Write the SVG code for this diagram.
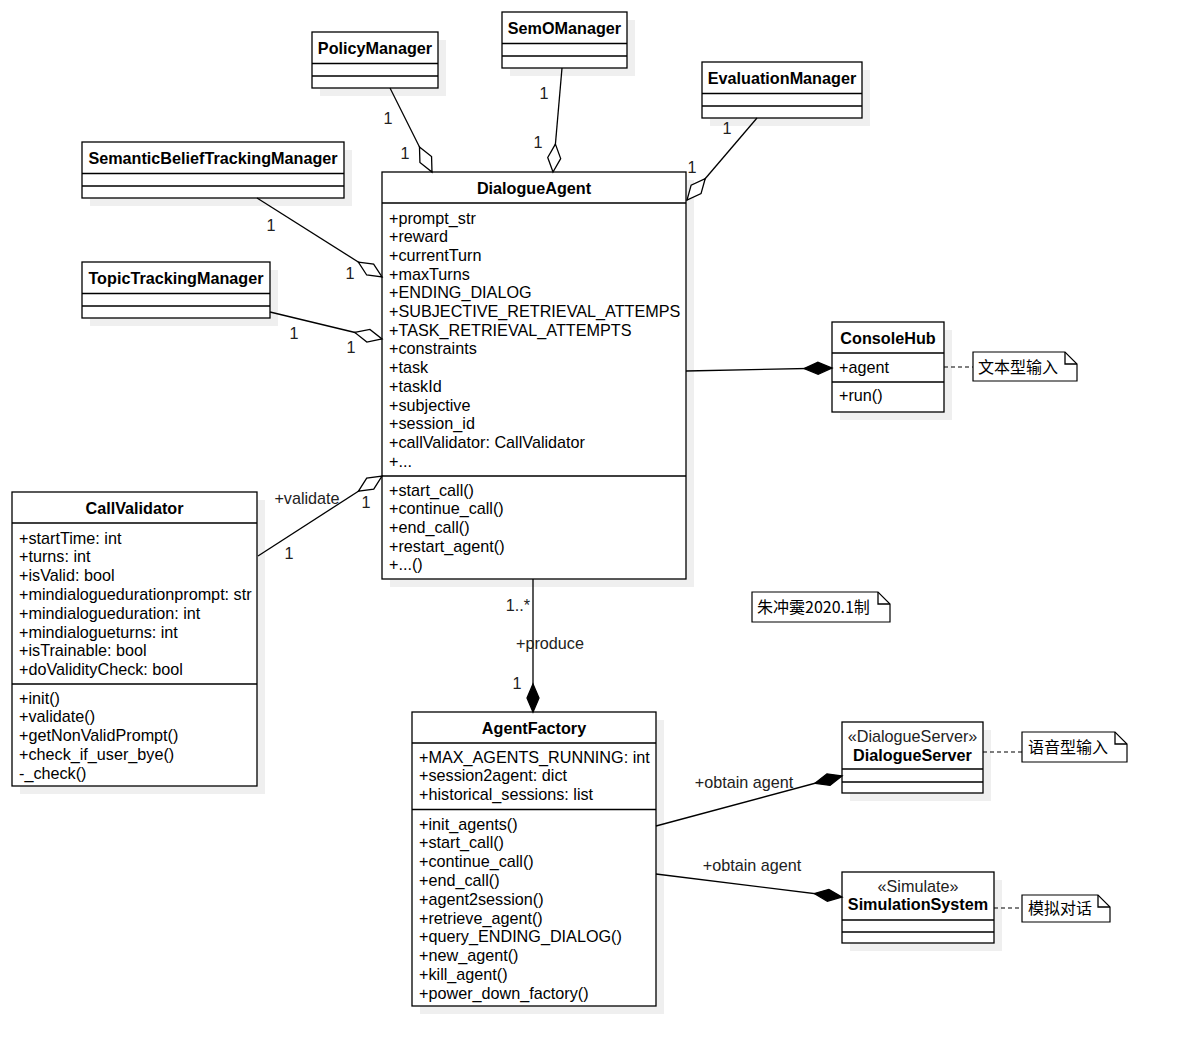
<svg xmlns="http://www.w3.org/2000/svg" width="1177" height="1056" viewBox="0 0 1177 1056">
<style>
text{font-family:"Liberation Sans",Arial,"Noto Sans CJK SC",sans-serif;font-size:16.2px;fill:#000}
.t{font-weight:bold;text-anchor:middle}
.lbl{text-anchor:middle;fill:#222}
.st{text-anchor:middle;fill:#222}
.cjk{font-family:"Noto Sans CJK SC","Liberation Sans",sans-serif;font-size:16px}
.box{fill:#fff;stroke:#000;stroke-width:1.3}
.sh{fill:#efefef;stroke:none}
.ln{stroke:#000;stroke-width:1.3;fill:none}
.edge{stroke:#000;stroke-width:1.3;fill:none}
.dash{stroke:#000;stroke-width:1.2;fill:none;stroke-dasharray:4 3}
.note{fill:#fff;stroke:#000;stroke-width:1.2}
</style>
<defs>
<marker id="hd" viewBox="-2 -9 32 18" refX="28" refY="0" markerWidth="32" markerHeight="18" markerUnits="userSpaceOnUse" orient="auto"><path d="M0,0 L14,-6.5 L28,0 L14,6.5 Z" fill="#fff" stroke="#000" stroke-width="1.3"/></marker>
<marker id="fd" viewBox="-2 -9 32 18" refX="28" refY="0" markerWidth="32" markerHeight="18" markerUnits="userSpaceOnUse" orient="auto"><path d="M0,0 L14,-6 L28,0 L14,6 Z" fill="#000" stroke="#000" stroke-width="1.3"/></marker>
</defs>
<rect width="1177" height="1056" fill="#fff"/>

<g id="shadows">
<rect class="sh" x="320" y="40" width="126" height="56"/>
<rect class="sh" x="510" y="20" width="125" height="56"/>
<rect class="sh" x="710" y="70" width="160" height="56"/>
<rect class="sh" x="90" y="150" width="262" height="56"/>
<rect class="sh" x="90" y="270" width="188" height="56"/>
<rect class="sh" x="390" y="180" width="304" height="407"/>
<rect class="sh" x="840" y="330" width="112" height="90"/>
<rect class="sh" x="20" y="500" width="245" height="294"/>
<rect class="sh" x="420" y="720" width="244" height="294"/>
<rect class="sh" x="850" y="730" width="141" height="71"/>
<rect class="sh" x="850" y="880" width="152" height="71"/>
</g>

<g id="PolicyManager">
<rect class="box" x="312" y="32" width="126" height="56"/>
<path class="ln" d="M312,63.5 H438 M312,76 H438"/>
<text class="t" x="375" y="54">PolicyManager</text>
</g>

<g id="SemOManager">
<rect class="box" x="502" y="12" width="125" height="56"/>
<path class="ln" d="M502,43.5 H627 M502,56 H627"/>
<text class="t" x="564.5" y="34">SemOManager</text>
</g>

<g id="EvaluationManager">
<rect class="box" x="702" y="62" width="160" height="56"/>
<path class="ln" d="M702,93.5 H862 M702,106 H862"/>
<text class="t" x="782" y="84">EvaluationManager</text>
</g>

<g id="SemanticBeliefTrackingManager">
<rect class="box" x="82" y="142" width="262" height="56"/>
<path class="ln" d="M82,173.5 H344 M82,186 H344"/>
<text class="t" x="213" y="164">SemanticBeliefTrackingManager</text>
</g>

<g id="TopicTrackingManager">
<rect class="box" x="82" y="262" width="188" height="56"/>
<path class="ln" d="M82,293.5 H270 M82,306 H270"/>
<text class="t" x="176" y="284">TopicTrackingManager</text>
</g>

<g id="DialogueAgent">
<rect class="box" x="382" y="172" width="304" height="407"/>
<path class="ln" d="M382,203 H686 M382,476 H686"/>
<text class="t" x="534" y="194">DialogueAgent</text>
<text x="389" y="223.5">+prompt_str</text>
<text x="389" y="242.2">+reward</text>
<text x="389" y="260.9">+currentTurn</text>
<text x="389" y="279.6">+maxTurns</text>
<text x="389" y="298.3">+ENDING_DIALOG</text>
<text x="389" y="317">+SUBJECTIVE_RETRIEVAL_ATTEMPS</text>
<text x="389" y="335.7">+TASK_RETRIEVAL_ATTEMPTS</text>
<text x="389" y="354.4">+constraints</text>
<text x="389" y="373.1">+task</text>
<text x="389" y="391.8">+taskId</text>
<text x="389" y="410.5">+subjective</text>
<text x="389" y="429.2">+session_id</text>
<text x="389" y="447.9">+callValidator: CallValidator</text>
<text x="389" y="466.6">+...</text>
<text x="389" y="495.5">+start_call()</text>
<text x="389" y="514.2">+continue_call()</text>
<text x="389" y="532.9">+end_call()</text>
<text x="389" y="551.6">+restart_agent()</text>
<text x="389" y="570.3">+...()</text>
</g>

<g id="ConsoleHub">
<rect class="box" x="832" y="322" width="112" height="90"/>
<path class="ln" d="M832,353 H944 M832,382 H944"/>
<text class="t" x="888" y="344">ConsoleHub</text>
<text x="839" y="373">+agent</text>
<text x="839" y="401">+run()</text>
</g>

<g id="note-text-input">
<path class="note" d="M973,352 H1065 L1077,364 V381 H973 Z"/>
<path class="ln" stroke-width="1.2" d="M1065,352 V364 H1077"/>
<text class="cjk" x="978" y="373">文本型输入</text>
</g>

<g id="note-author">
<path class="note" d="M752,592 H878 L890,604 V622 H752 Z"/>
<path class="ln" stroke-width="1.2" d="M878,592 V604 H890"/>
<text class="cjk" x="757" y="613">朱冲霙2020.1制</text>
</g>

<g id="CallValidator">
<rect class="box" x="12" y="492" width="245" height="294"/>
<path class="ln" d="M12,523 H257 M12,684 H257"/>
<text class="t" x="134.5" y="514">CallValidator</text>
<text x="19" y="543.5">+startTime: int</text>
<text x="19" y="562.3">+turns: int</text>
<text x="19" y="581.1">+isValid: bool</text>
<text x="19" y="599.9">+mindialoguedurationprompt: str</text>
<text x="19" y="618.7">+mindialogueduration: int</text>
<text x="19" y="637.5">+mindialogueturns: int</text>
<text x="19" y="656.3">+isTrainable: bool</text>
<text x="19" y="675.1">+doValidityCheck: bool</text>
<text x="19" y="703.5">+init()</text>
<text x="19" y="722.3">+validate()</text>
<text x="19" y="741.1">+getNonValidPrompt()</text>
<text x="19" y="759.9">+check_if_user_bye()</text>
<text x="19" y="778.7">-_check()</text>
</g>

<g id="AgentFactory">
<rect class="box" x="412" y="712" width="244" height="294"/>
<path class="ln" d="M412,743 H656 M412,809.5 H656"/>
<text class="t" x="534" y="734">AgentFactory</text>
<text x="419" y="762.5">+MAX_AGENTS_RUNNING: int</text>
<text x="419" y="781.3">+session2agent: dict</text>
<text x="419" y="800.1">+historical_sessions: list</text>
<text x="419" y="829.5">+init_agents()</text>
<text x="419" y="848.3">+start_call()</text>
<text x="419" y="867.1">+continue_call()</text>
<text x="419" y="885.9">+end_call()</text>
<text x="419" y="904.7">+agent2session()</text>
<text x="419" y="923.5">+retrieve_agent()</text>
<text x="419" y="942.3">+query_ENDING_DIALOG()</text>
<text x="419" y="961.1">+new_agent()</text>
<text x="419" y="979.9">+kill_agent()</text>
<text x="419" y="998.7">+power_down_factory()</text>
</g>

<g id="DialogueServer">
<rect class="box" x="842" y="722" width="141" height="71"/>
<path class="ln" d="M842,769 H983 M842,782 H983"/>
<text class="st" x="912.5" y="742">«DialogueServer»</text>
<text class="t" x="912.5" y="761">DialogueServer</text>
</g>

<g id="note-voice-input">
<path class="note" d="M1022,732 H1115 L1127,744 V762 H1022 Z"/>
<path class="ln" stroke-width="1.2" d="M1115,732 V744 H1127"/>
<text class="cjk" x="1028" y="753">语音型输入</text>
</g>

<g id="SimulationSystem">
<rect class="box" x="842" y="872" width="152" height="71"/>
<path class="ln" d="M842,920 H994 M842,932 H994"/>
<text class="st" x="918" y="892">«Simulate»</text>
<text class="t" x="918" y="910">SimulationSystem</text>
</g>

<g id="note-simulation">
<path class="note" d="M1022,895 H1098 L1110,907 V922 H1022 Z"/>
<path class="ln" stroke-width="1.2" d="M1098,895 V907 H1110"/>
<text class="cjk" x="1028" y="914">模拟对话</text>
</g>

<g id="connectors">
<path class="edge" d="M390,88 L432,172" marker-end="url(#hd)"/>
<path class="edge" d="M562,68 L553,172" marker-end="url(#hd)"/>
<path class="edge" d="M757,118 L687,200" marker-end="url(#hd)"/>
<path class="edge" d="M257,198 L382,277" marker-end="url(#hd)"/>
<path class="edge" d="M270,312 L382,339" marker-end="url(#hd)"/>
<path class="edge" d="M258,556 L382,476" marker-end="url(#hd)"/>
<path class="edge" d="M686,371 L832,368" marker-end="url(#fd)"/>
<path class="edge" d="M533,579 L533,712" marker-end="url(#fd)"/>
<path class="edge" d="M656,826 L842,776" marker-end="url(#fd)"/>
<path class="edge" d="M656,874 L842,897" marker-end="url(#fd)"/>
<path class="dash" d="M944,367 L973,367"/>
<path class="dash" d="M983,752 L1022,752"/>
<path class="dash" d="M994,908 L1022,908"/>
<text class="lbl" x="388" y="124">1</text>
<text class="lbl" x="405" y="159">1</text>
<text class="lbl" x="544" y="99">1</text>
<text class="lbl" x="538" y="148">1</text>
<text class="lbl" x="727" y="134">1</text>
<text class="lbl" x="692" y="173">1</text>
<text class="lbl" x="271" y="231">1</text>
<text class="lbl" x="350" y="279">1</text>
<text class="lbl" x="294" y="339">1</text>
<text class="lbl" x="351" y="353">1</text>
<text class="lbl" x="307" y="504">+validate</text>
<text class="lbl" x="366" y="508">1</text>
<text class="lbl" x="289" y="559">1</text>
<text class="lbl" x="518" y="611">1..*</text>
<text class="lbl" x="550" y="649">+produce</text>
<text class="lbl" x="517" y="689">1</text>
<text class="lbl" x="744" y="788">+obtain agent</text>
<text class="lbl" x="752" y="871">+obtain agent</text>
</g>
</svg>
